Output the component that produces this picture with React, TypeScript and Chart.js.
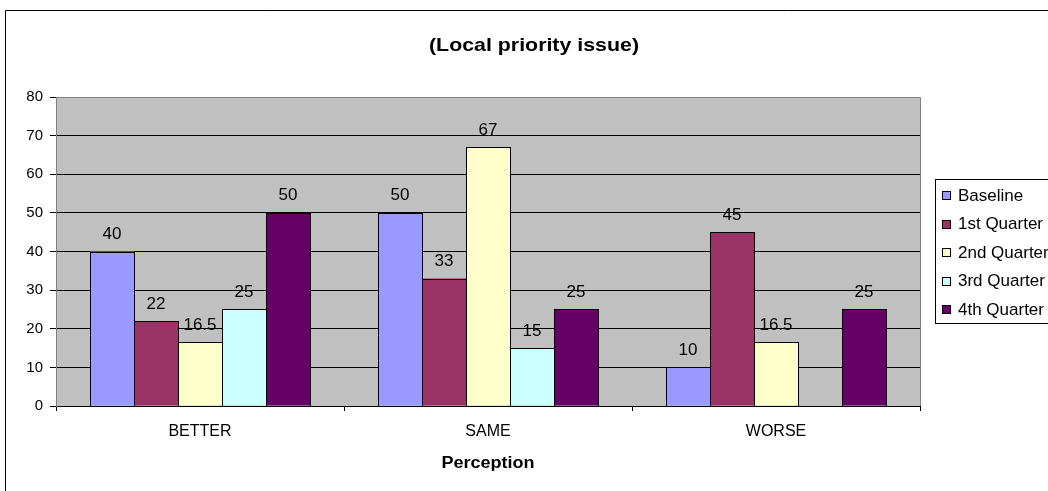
import React, { useEffect, useRef } from "react";
import { Chart, registerables } from "chart.js";

Chart.register(...registerables);

const categories = ["BETTER", "SAME", "WORSE"];
const seriesNames = ["Baseline", "1st Quarter", "2nd Quarter", "3rd Quarter", "4th Quarter"];
const baseline = [40, 50, 10];
const quarter1 = [22, 33, 45];
const quarter2 = [16.5, 67, 16.5];
const quarter3 = [25, 15, null];
const quarter4 = [50, 25, 25];
const seriesColors = ["#9999FF", "#993366", "#FFFFCC", "#CCFFFF", "#660066"];
const yMax = 80;
const yStep = 10;

const chartTitle = "(Local priority issue)";
const xAxisTitle = "Perception";
const FONT = "'Liberation Sans', Arial, Helvetica, sans-serif";

function stretchedText(
  ctx: CanvasRenderingContext2D,
  text: string,
  cx: number,
  y: number,
  font: string,
  targetWidth: number
) {
  ctx.save();
  ctx.font = font;
  const w = ctx.measureText(text).width;
  const sx = targetWidth / w;
  ctx.translate(cx, y);
  ctx.scale(sx, 1);
  ctx.textAlign = "center";
  ctx.textBaseline = "alphabetic";
  ctx.fillStyle = "#000";
  ctx.fillText(text, 0, 0);
  ctx.restore();
}

const excelFrame = {
  id: "excelFrame",
  beforeDraw(chart: any) {
    const { ctx, chartArea: a, width, height } = chart;
    ctx.save();
    ctx.fillStyle = "#FFFFFF";
    ctx.fillRect(0, 0, width, height);
    ctx.fillStyle = "#C0C0C0";
    ctx.fillRect(a.left, a.top, a.right - a.left, a.bottom - a.top);
    ctx.restore();
  },
  beforeDatasetsDraw(chart: any) {
    const { ctx, chartArea: a } = chart;
    ctx.save();
    ctx.strokeStyle = "#808080";
    ctx.lineWidth = 1;
    ctx.beginPath();
    ctx.moveTo(a.left, a.top + 0.5);
    ctx.lineTo(a.right + 0.5, a.top + 0.5);
    ctx.lineTo(a.right + 0.5, a.bottom);
    ctx.stroke();
    ctx.restore();
  },
  afterDatasetsDraw(chart: any) {
    // crisp black outlines around every bar
    const { ctx } = chart;
    ctx.save();
    ctx.strokeStyle = "#000";
    ctx.lineWidth = 1;
    chart.data.datasets.forEach((ds: any, di: number) => {
      const meta = chart.getDatasetMeta(di);
      meta.data.forEach((el: any, i: number) => {
        const v = ds.data[i];
        if (v === null || v === undefined) return;
        const { x, y, base, width } = el.getProps(["x", "y", "base", "width"], true);
        const l = Math.round(x - width / 2);
        const r = Math.round(x + width / 2);
        const t = Math.round(y);
        const b = Math.round(base);
        ctx.strokeRect(l + 0.5, t + 0.5, r - l, b - t);
      });
    });
    ctx.restore();
  },
  afterDraw(chart: any) {
    const { ctx, chartArea: a } = chart;
    ctx.save();

    // outer chart border (left and top edges)
    ctx.strokeStyle = "#000";
    ctx.lineWidth = 1;
    ctx.beginPath();
    ctx.moveTo(5.5, chart.height);
    ctx.lineTo(5.5, 10.5);
    ctx.lineTo(chart.width, 10.5);
    ctx.stroke();

    // value labels above bars
    ctx.font = `17px ${FONT}`;
    ctx.fillStyle = "#000";
    ctx.textAlign = "center";
    ctx.textBaseline = "alphabetic";
    chart.data.datasets.forEach((ds: any, di: number) => {
      const meta = chart.getDatasetMeta(di);
      meta.data.forEach((el: any, i: number) => {
        const v = ds.data[i];
        if (v === null || v === undefined) return;
        ctx.fillText(String(v), el.x, el.y - 12.5);
      });
    });

    // title and axis title
    stretchedText(ctx, chartTitle, (a.left + a.right) / 2 + 46, 51, `bold 19px ${FONT}`, 210);
    stretchedText(ctx, xAxisTitle, (a.left + a.right) / 2, 468, `bold 16px ${FONT}`, 93);

    // legend
    const lx = 935;
    const ly = 179;
    ctx.fillStyle = "#FFFFFF";
    ctx.fillRect(lx, ly, chart.width - lx + 5, 144);
    ctx.strokeStyle = "#000";
    ctx.strokeRect(lx + 0.5, ly + 0.5, chart.width - lx + 5, 144);
    ctx.font = `17px ${FONT}`;
    ctx.textAlign = "left";
    ctx.textBaseline = "middle";
    seriesNames.forEach((name, i) => {
      const cy = 195 + i * 28.6;
      ctx.fillStyle = seriesColors[i];
      ctx.fillRect(942, Math.round(cy) - 4, 9, 9);
      ctx.strokeStyle = "#000";
      ctx.strokeRect(942.5, Math.round(cy) - 3.5, 8, 8);
      ctx.fillStyle = "#000";
      ctx.fillText(name, 958, cy + 1);
    });

    ctx.restore();
  },
};

export default function App() {
  const canvasRef = useRef<HTMLCanvasElement | null>(null);

  useEffect(() => {
    const canvas = canvasRef.current;
    if (!canvas) return;
    const seriesData = [baseline, quarter1, quarter2, quarter3, quarter4];
    const chart = new Chart(canvas, {
      type: "bar",
      data: {
        labels: categories,
        datasets: seriesNames.map((name, i) => ({
          label: name,
          data: seriesData[i],
          backgroundColor: seriesColors[i],
          borderWidth: 0,
          categoryPercentage: 0.764,
          barPercentage: 1.0,
        })),
      },
      options: {
        animation: false,
        responsive: false,
        maintainAspectRatio: false,
        layout: { padding: { top: 97, right: 128, bottom: 0, left: 0 } },
        plugins: {
          legend: { display: false },
          title: { display: false },
          tooltip: { enabled: false },
        },
        scales: {
          x: {
            afterFit(scale: any) {
              scale.height = 85;
            },
            grid: {
              drawOnChartArea: false,
              tickLength: 5,
              color: "#000000",
            },
            border: { color: "#000000" },
            ticks: {
              color: "#000000",
              font: { family: FONT, size: 16 },
              padding: 11,
            },
          },
          y: {
            min: 0,
            max: yMax,
            afterFit(scale: any) {
              scale.width = 56;
            },
            grid: {
              color: "#000000",
              tickLength: 6,
            },
            border: { color: "#808080" },
            ticks: {
              stepSize: yStep,
              color: "#000000",
              font: { family: FONT, size: 15 },
              padding: 7,
            },
          },
        },
      },
      plugins: [excelFrame],
    });
    return () => chart.destroy();
  }, []);

  return (
    <div style={{ position: "fixed", left: 0, top: 0, width: 1048, height: 491, background: "#fff" }}>
      <canvas ref={canvasRef} width={1048} height={491} style={{ display: "block", width: 1048, height: 491 }} />
    </div>
  );
}
